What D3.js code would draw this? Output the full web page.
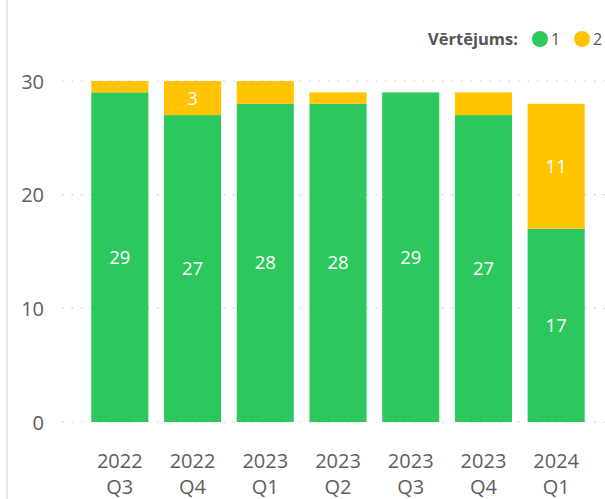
<!DOCTYPE html>
<html>
<head>
<meta charset="utf-8">
<script src="https://cdn.jsdelivr.net/npm/d3@7"></script>
<style>
  body { margin:0; background:#fff; }
</style>
</head>
<body>
<div id="chart"></div>
<script>
var WIDTH=605;
var HEIGHT=499;

// datos
var years=["2022","2022","2023","2023","2023","2023","2024"];
var quarters=["Q3","Q4","Q1","Q2","Q3","Q4","Q1"];
var vert1=[29,27,28,28,29,27,17];
var vert2=[1,3,2,1,0,2,11];
var yTicks=[0,10,20,30];
var legendKeys=["1","2"];
var COLORS=["#2DC85D","#FFC300"];
var FONT="'Open Sans','Segoe UI','Noto Sans',sans-serif";
var GREY="#605E5C";

var svg=d3.select("#chart").append("svg")
  .attr("width",WIDTH)
  .attr("height",HEIGHT);

// borde izquierdo del visual
svg.append("rect")
  .attr("x",6).attr("y",0)
  .attr("width",2).attr("height",HEIGHT)
  .attr("fill","#e8e8e8");

var cats=years.map(function(y,i){return y+" "+quarters[i]});

var scaleX=d3.scaleBand()
  .domain(cats)
  .range([84,592])
  .paddingInner(0.215)
  .paddingOuter(0.1);

var scaleY=d3.scaleLinear()
  .domain([0,30])
  .range([422,81]);

// grid
svg.append("g")
  .selectAll("line")
  .data(yTicks)
  .enter()
  .append("line")
  .attr("x1",62)
  .attr("x2",WIDTH)
  .attr("y1",function(d){return scaleY(d)})
  .attr("y2",function(d){return scaleY(d)})
  .style("stroke","#c8c8c8")
  .style("stroke-width","1.2px")
  .style("stroke-dasharray","1.5,8");

// eje y
var yAxis=d3.axisLeft(scaleY).tickValues(yTicks).tickSize(0).tickPadding(0);
var gy=svg.append("g")
  .attr("transform","translate(44,0)")
  .style("font-family",FONT)
  .style("font-size","20px")
  .call(yAxis);
gy.select(".domain").remove();
gy.selectAll("text").attr("fill",GREY).attr("dy","0.35em");

// eje x (dos lineas)
var gx=svg.append("g");
cats.forEach(function(c,i){
  var cx=scaleX(c)+scaleX.bandwidth()/2;
  gx.append("text")
    .attr("x",cx).attr("y",468)
    .style("text-anchor","middle")
    .style("font-family",FONT)
    .style("font-size","20px")
    .attr("fill",GREY)
    .text(years[i]);
  gx.append("text")
    .attr("x",cx).attr("y",494)
    .style("text-anchor","middle")
    .style("font-family",FONT)
    .style("font-size","20px")
    .attr("fill",GREY)
    .text(quarters[i]);
});

// barras apiladas
var rows=cats.map(function(c,i){return {cat:c,"1":vert1[i],"2":vert2[i]}});
var stack=d3.stack().keys(legendKeys)(rows);

var layers=svg.selectAll(".layer")
  .data(stack)
  .enter()
  .append("g")
  .attr("class","layer")
  .attr("fill",function(d,i){return COLORS[i]});

layers.selectAll("rect")
  .data(function(d){return d})
  .enter()
  .append("rect")
  .attr("x",function(d){return scaleX(d.data.cat)})
  .attr("width",scaleX.bandwidth())
  .attr("y",function(d){return scaleY(d[1])})
  .attr("height",function(d){return scaleY(d[0])-scaleY(d[1])});

// etiquetas (solo si caben)
layers.selectAll("text")
  .data(function(d){return d.filter(function(p){return p[1]-p[0]>=3})})
  .enter()
  .append("text")
  .attr("x",function(d){return scaleX(d.data.cat)+scaleX.bandwidth()/2})
  .attr("y",function(d){return (scaleY(d[0])+scaleY(d[1]))/2})
  .attr("dy","0.35em")
  .style("text-anchor","middle")
  .style("font-family",FONT)
  .style("font-size","18.5px")
  .attr("fill","#fff")
  .text(function(d){return d[1]-d[0]});

// leyenda
svg.append("text")
  .attr("x",428).attr("y",39)
  .attr("dy","0.35em")
  .style("font-family",FONT)
  .style("font-size","16.5px")
  .style("font-weight","bold")
  .attr("fill","#555")
  .text("Vērtējums:");

var lx=[540,582];
legendKeys.forEach(function(k,i){
  svg.append("circle")
    .attr("cx",lx[i]).attr("cy",39).attr("r",8)
    .attr("fill",COLORS[i]);
  svg.append("text")
    .attr("x",lx[i]+11).attr("y",39)
    .attr("dy","0.35em")
    .style("font-family",FONT)
    .style("font-size","16px")
    .attr("fill","#555")
    .text(k);
});
</script>
</body>
</html>
